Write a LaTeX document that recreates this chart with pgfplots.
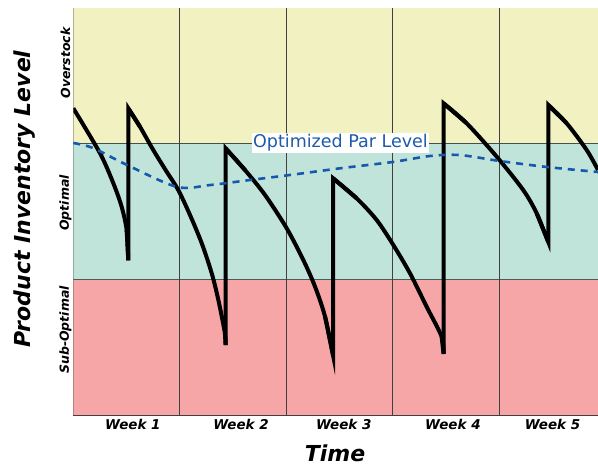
\documentclass[border=0pt]{standalone}
\usepackage{fontspec}
\setmainfont{DejaVu Sans}
\usepackage{pgfplots}
\pgfplotsset{compat=1.18}
\definecolor{bandY}{RGB}{241,241,193}
\definecolor{bandG}{RGB}{193,228,218}
\definecolor{bandR}{RGB}{246,166,166}
\definecolor{parblue}{RGB}{21,88,172}
\definecolor{labblue}{RGB}{30,90,170}
\begin{document}
\begin{tikzpicture}
\begin{axis}[
  scale only axis, width=524.7pt, height=407pt,
  xmin=0, xmax=4.927, ymin=0, ymax=3,
  axis line style={draw=black!75, line width=0.8pt},
  ytick=\empty,
  xtick={0.56,1.575,2.54,3.565,4.50},
  xticklabels={Week 1,Week 2,Week 3,Week 4,Week 5},
  major tick length=0pt,
  xticklabel style={font=\fontsize{13.5}{14}\selectfont\bfseries\itshape, yshift=-1pt},
  clip=true,
]
% bands
\fill[bandR] (axis cs:0,0) rectangle (axis cs:5,1);
\fill[bandG] (axis cs:0,1) rectangle (axis cs:5,2);
\fill[bandY] (axis cs:0,2) rectangle (axis cs:5,3);
\draw[black!60!bandG, line width=1pt] (axis cs:0,1) -- (axis cs:5,1);
\draw[black!65!bandG, line width=1pt] (axis cs:0,2) -- (axis cs:5,2);
\draw[black!75, line width=0.8pt] (axis cs:1,0) -- (axis cs:1,3);
\draw[black!75, line width=0.8pt] (axis cs:2,0) -- (axis cs:2,3);
\draw[black!75, line width=0.8pt] (axis cs:3,0) -- (axis cs:3,3);
\draw[black!75, line width=0.8pt] (axis cs:4,0) -- (axis cs:4,3);
% sawtooth descents
\addplot[black, line width=4pt, smooth] coordinates {(0,2.261)(0.251,1.929)(0.376,1.708)(0.454,1.535)(0.501,1.364)(0.516,1.140)};
\addplot[black, line width=4pt, smooth] coordinates {(0.516,2.261)(0.626,2.125)(0.751,1.953)(0.877,1.793)(0.986,1.658)(1.096,1.474)(1.206,1.266)(1.300,1.044)(1.362,0.848)(1.424,0.602)(1.430,0.515)};
\addplot[black, line width=4pt, smooth] coordinates {(1.430,1.966)(1.612,1.806)(1.800,1.622)(2.004,1.376)(2.160,1.142)(2.270,0.946)(2.364,0.725)(2.439,0.440)};
\addplot[black, line width=4pt, smooth] coordinates {(2.439,1.745)(2.661,1.597)(2.849,1.437)(3.005,1.253)(3.162,1.044)(3.318,0.798)(3.459,0.577)(3.477,0.450)};
\addplot[black, line width=4pt, smooth] coordinates {(3.477,2.297)(3.694,2.150)(3.976,1.904)(4.225,1.658)(4.351,1.487)(4.460,1.275)};
\addplot[black, line width=4pt, smooth] coordinates {(4.460,2.285)(4.633,2.150)(4.821,1.953)(4.927,1.806)};
% restocking jumps
\addplot[black, line width=4pt, sharp plot, line join=miter] coordinates {(0.501,1.364)(0.516,1.140)(0.516,2.261)(0.626,2.125)};
\addplot[black, line width=4pt, sharp plot, line join=miter] coordinates {(1.424,0.602)(1.430,0.515)(1.430,1.966)(1.612,1.806)};
\addplot[black, line width=4pt, sharp plot, line join=miter] coordinates {(2.364,0.725)(2.439,0.440)(2.439,1.745)(2.661,1.597)};
\addplot[black, line width=4pt, sharp plot, line join=miter] coordinates {(3.459,0.577)(3.477,0.450)(3.477,2.297)(3.694,2.150)};
\addplot[black, line width=4pt, sharp plot, line join=miter] coordinates {(4.351,1.487)(4.460,1.275)(4.460,2.285)(4.633,2.150)};
% optimized par level
\addplot[parblue, line width=2.6pt, smooth, dash pattern=on 7pt off 6pt] coordinates {(0,2.005)(0.185,1.968)(0.504,1.843)(0.974,1.681)(1.284,1.695)(1.659,1.732)(2.034,1.769)(2.532,1.821)(3.001,1.865)(3.349,1.909)(3.631,1.916)(4.006,1.872)(4.447,1.828)(4.927,1.791)};
\node[fill=white, inner xsep=1.5pt, inner ysep=2pt, text=labblue, font=\fontsize{17.5}{18}\selectfont] at (axis cs:2.509,2.005) {Optimized Par Level};
\end{axis}
% labels
\node[rotate=90, font=\fontsize{22}{24}\selectfont\bfseries\itshape] at (-48.3pt,216pt) {Product Inventory Level};
\node[rotate=90, font=\fontsize{12.5}{14}\selectfont\bfseries\itshape] at (-7.8pt,352pt) {Overstock};
\node[rotate=90, font=\fontsize{12.5}{14}\selectfont\bfseries\itshape] at (-7.8pt,212pt) {Optimal};
\node[rotate=90, font=\fontsize{12.5}{14}\selectfont\bfseries\itshape] at (-7.8pt,85pt) {Sub-Optimal};
\node[font=\fontsize{22}{24}\selectfont\bfseries\itshape, inner sep=1pt] at (261.7pt,-38.5pt) {Time};
\pgfresetboundingbox
\path[use as bounding box] (-73.3pt,-51pt) rectangle (524.7pt,415pt);
\end{tikzpicture}
\end{document}
